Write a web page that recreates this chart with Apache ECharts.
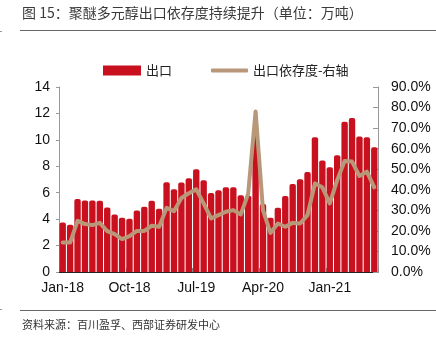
<!DOCTYPE html>
<html>
<head>
<meta charset="utf-8">
<script src="https://cdn.jsdelivr.net/npm/echarts@6/dist/echarts.min.js"></script>
<style>
  html, body { margin: 0; padding: 0; background: #fff; }
  #chart { width: 436px; height: 346px; }
</style>
</head>
<body>
<div id="chart"></div>
<script>
// Monthly categories, Jan-18 .. Jul-21
const months = [
  'Jan-18','Feb-18','Mar-18','Apr-18','May-18','Jun-18','Jul-18','Aug-18','Sep-18','Oct-18','Nov-18','Dec-18',
  'Jan-19','Feb-19','Mar-19','Apr-19','May-19','Jun-19','Jul-19','Aug-19','Sep-19','Oct-19','Nov-19','Dec-19',
  'Jan-20','Feb-20','Mar-20','Apr-20','May-20','Jun-20','Jul-20','Aug-20','Sep-20','Oct-20','Nov-20','Dec-20',
  'Jan-21','Feb-21','Mar-21','Apr-21','May-21','Jun-21','Jul-21'
];

// Export volume (万吨)
const exportVolume = [
  3.75, 3.57, 5.52, 5.42, 5.42, 5.40, 4.89, 4.36, 4.10, 4.03, 4.66, 4.94,
  5.40, 4.79, 6.79, 6.26, 6.77, 7.09, 7.77, 6.94, 5.98, 6.18, 6.41, 6.41,
  5.80, 5.77, 10.40, 5.14, 4.10, 4.86, 5.75, 6.66, 7.02, 7.57, 10.20, 8.43,
  7.93, 8.84, 11.37, 11.65, 10.25, 10.20, 9.44
];

// Export dependency (%), right axis
const exportRatio = [
  14.3, 14.3, 24.9, 23.3, 22.8, 23.9, 19.9, 18.4, 16.0, 17.4, 20.0, 20.0,
  22.5, 22.0, 31.2, 29.6, 36.0, 38.3, 40.2, 33.4, 26.1, 27.7, 29.3, 30.1,
  28.0, 38.0, 78.1, 30.0, 19.0, 23.6, 22.0, 23.9, 23.6, 27.7, 43.1, 41.2,
  33.4, 44.7, 54.0, 53.7, 46.7, 48.8, 41.2
];

// Axis ranges
const leftAxis = { min: 0, max: 14, interval: 2 };
const rightAxis = { min: 0, max: 90, interval: 10 };

const titleText = '图 15：聚醚多元醇出口依存度持续提升（单位：万吨）';
const sourceText = '资料来源：百川盈孚、西部证券研发中心';
const barName = '出口';
const lineName = '出口依存度-右轴';

const RED = '#C8101E';
const TAN = '#B9987A';
const cjk = '"Noto Sans CJK SC", sans-serif';
const latin = '"Liberation Sans", Arial, sans-serif';

const chart = echarts.init(document.getElementById('chart'), null, { renderer: 'canvas' });

chart.setOption({
  backgroundColor: '#fff',
  animation: false,
  graphic: [
    { type: 'text', left: 22, top: 6, style: { text: titleText, font: '14px ' + cjk, fill: '#3a3a3a' } },
    { type: 'line', shape: { x1: 20, y1: 30.5, x2: 436, y2: 30.5 }, style: { stroke: '#666', lineWidth: 1 } },
    { type: 'line', shape: { x1: 0, y1: 31.5, x2: 2, y2: 31.5 }, style: { stroke: '#999', lineWidth: 1 } },
    { type: 'line', shape: { x1: 20, y1: 310.5, x2: 436, y2: 310.5 }, style: { stroke: '#666', lineWidth: 1 } },
    { type: 'line', shape: { x1: 0, y1: 309.5, x2: 2, y2: 309.5 }, style: { stroke: '#999', lineWidth: 1 } },
    { type: 'text', left: 22, top: 319, style: { text: sourceText, font: '11px ' + cjk, fill: '#333' } }
  ],
  legend: [
    {
      data: [{ name: barName, icon: 'rect' }],
      left: 98, top: 59,
      itemWidth: 38, itemHeight: 10, itemGap: 10,
      textStyle: { fontFamily: cjk, fontSize: 13, color: '#222' }
    },
    {
      data: [{ name: lineName, icon: 'roundRect' }],
      left: 206, top: 59,
      itemWidth: 37, itemHeight: 4, itemGap: 10,
      textStyle: { fontFamily: cjk, fontSize: 13, color: '#222' }
    }
  ],
  grid: { left: 59, right: 58, top: 87, bottom: 74, containLabel: false },
  xAxis: {
    type: 'category',
    data: months,
    boundaryGap: true,
    axisLine: { lineStyle: { color: '#222', width: 1 } },
    axisTick: { show: true, inside: true, length: 4, interval: 8, lineStyle: { color: '#888' } },
    axisLabel: { interval: 8, margin: 9, fontFamily: latin, fontSize: 14, color: '#111' }
  },
  yAxis: [
    {
      type: 'value',
      min: leftAxis.min, max: leftAxis.max, interval: leftAxis.interval,
      axisLine: { show: true, lineStyle: { color: '#999' } },
      axisTick: { show: true, length: 3, lineStyle: { color: '#999' } },
      axisLabel: { margin: 9, fontFamily: latin, fontSize: 14, color: '#111' },
      splitLine: { show: false }
    },
    {
      type: 'value',
      position: 'right',
      min: rightAxis.min, max: rightAxis.max, interval: rightAxis.interval,
      axisLine: { show: true, lineStyle: { color: '#999' } },
      axisTick: { show: true, inside: true, length: 5, lineStyle: { color: '#999' } },
      axisLabel: {
        margin: 13, fontFamily: latin, fontSize: 14, color: '#111',
        formatter: v => v.toFixed(1) + '%'
      },
      splitLine: { show: false }
    }
  ],
  series: [
    {
      name: barName,
      type: 'bar',
      data: exportVolume,
      yAxisIndex: 0,
      barWidth: '86%',
      itemStyle: { color: RED, borderRadius: [2, 2, 0, 0] },
      z: 2
    },
    {
      name: lineName,
      type: 'line',
      data: exportRatio,
      yAxisIndex: 1,
      showSymbol: false,
      symbol: 'none',
      lineStyle: { color: TAN, width: 4, cap: 'round', join: 'round' },
      itemStyle: { color: TAN },
      z: 3
    }
  ]
});
</script>
</body>
</html>
